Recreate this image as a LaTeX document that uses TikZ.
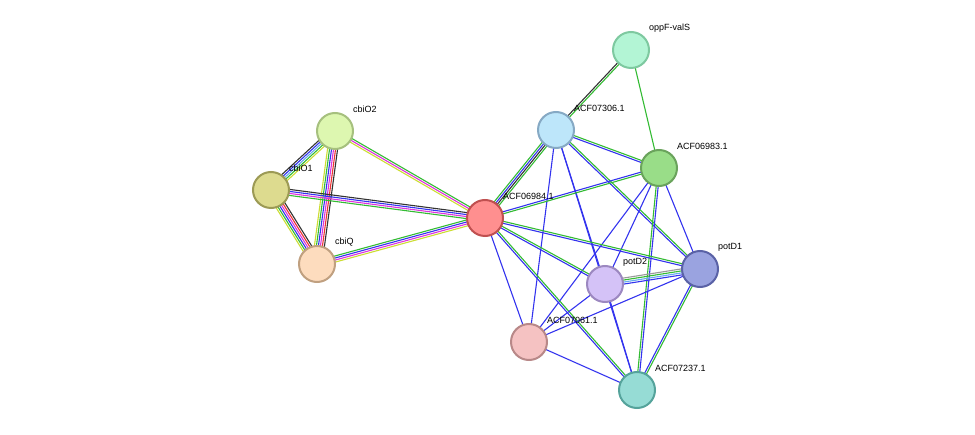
\documentclass[tikz,border=0pt]{standalone}
\usepackage{fontspec}
\setmainfont{Liberation Sans}
\usetikzlibrary{calc}
\definecolor{eg}{HTML}{33BB33}
\definecolor{eb}{HTML}{3333EE}
\definecolor{ek}{HTML}{333333}
\definecolor{em}{HTML}{DD33DD}
\definecolor{ey}{HTML}{CCDD33}
\definecolor{el}{HTML}{66AAEE}
\definecolor{er}{HTML}{EE3333}
\definecolor{ea}{HTML}{999999}
\newcommand{\medge}[3]{%
  \foreach \c [count=\i] in {#3} {\xdef\nn{\i}}%
  \foreach \c [count=\i] in {#3} {%
    \pgfmathsetmacro{\off}{(\i-(\nn+1)/2)*2}%
    \draw[\c,line width=1.1pt] ($(#1)!\off pt!90:(#2)$) -- ($(#2)!\off pt!-90:(#1)$);}%
}
\tikzset{prot/.style={circle,minimum size=36pt,inner sep=0pt,line width=2pt},
  lab/.style={anchor=west,font=\fontsize{9}{10}\selectfont,inner sep=0pt}}
\begin{document}
\begin{tikzpicture}[x=1pt,y=-1pt]
\useasboundingbox (0,0) rectangle (975,435);
\coordinate (op) at (631,50);
\coordinate (a306) at (556,130);
\coordinate (a983) at (659,168);
\coordinate (o2) at (335,131);
\coordinate (o1) at (271,190);
\coordinate (a984) at (485,218);
\coordinate (q) at (317,264);
\coordinate (d2) at (605,284);
\coordinate (d1) at (700,269);
\coordinate (a061) at (529,342);
\coordinate (a237) at (637,390);
\medge{op}{a306}{ek,eg}
\medge{op}{a983}{eg}
\medge{a306}{a984}{eg,eb,ek,eg}
\medge{a306}{a983}{eb,eg}
\medge{a306}{d1}{eb,eg}
\medge{a306}{d2}{eb}
\medge{a306}{a061}{eb}
\medge{a306}{a237}{eb}
\medge{a983}{a984}{eb,eg}
\medge{a983}{d1}{eb}
\medge{a983}{d2}{eb}
\medge{a983}{a237}{eg,eb}
\medge{a983}{a061}{eb}
\medge{a984}{d1}{eb,eg}
\medge{a984}{d2}{eb,eg}
\medge{a984}{a061}{eb}
\medge{a984}{a237}{eb,eg}
\medge{d2}{d1}{eb,el,eg,ea}
\medge{d2}{a061}{eb}
\medge{d2}{a237}{eb}
\medge{d1}{a237}{eb,eg}
\medge{d1}{a061}{eb}
\medge{a061}{a237}{eb}
\medge{o2}{o1}{ek,eb,el,eg,ey}
\medge{o2}{q}{ey,eg,eb,em,er,ek}
\medge{o1}{q}{ey,eg,eb,em,er,ek}
\medge{o2}{a984}{ey,em,eg}
\medge{o1}{a984}{eg,em,eb,ek}
\medge{q}{a984}{ey,em,eb,eg}
\foreach \n/\f/\d/\t in {op/B3F5D5/7EC9A0/oppF-valS, a306/BDE6FA/86A9C4/ACF07306.1,
  a983/99DD88/6AA35C/ACF06983.1, o2/DDF7B0/A6C07E/cbiO2, o1/DDDB8F/9C9A55/cbiO1,
  a984/FF8F8F/C05050/ACF06984.1, q/FDDCBE/C0A080/cbiQ, d2/D4C2F7/9C88C0/potD2,
  d1/9AA3E0/5A62A6/potD1, a061/F5C2C2/B88888/ACF07061.1, a237/96DCD5/55A39B/ACF07237.1}{
  \definecolor{cf}{HTML}{\f}\definecolor{cd}{HTML}{\d}
  \node[prot,fill=cf,draw=cd] (n\n) at (\n) {};
  \node[lab] (l\n) at ($(\n)+(18,-22)$) {\t};
}
\end{tikzpicture}
\end{document}
